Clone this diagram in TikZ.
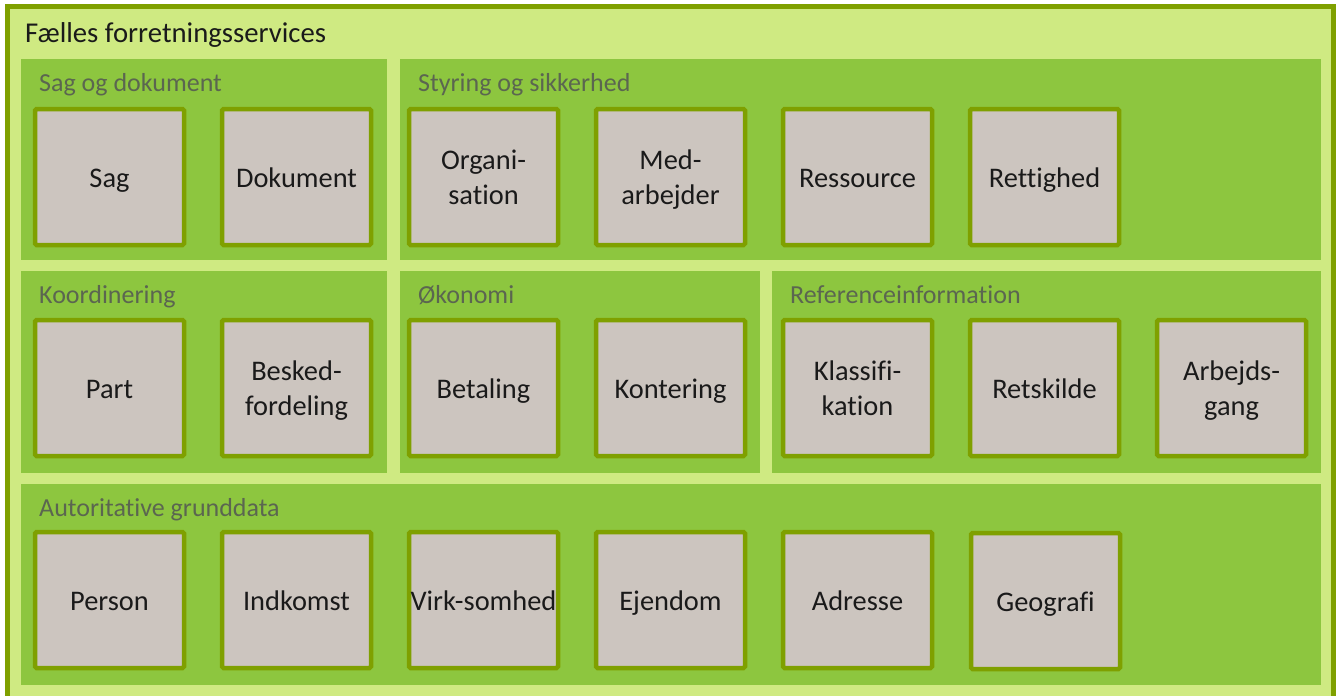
\documentclass[tikz,border=0pt]{standalone}
\usepackage{fontspec}
\setmainfont{Carlito}[Ligatures=CommonOff]
\definecolor{framelight}{HTML}{CFEA82}
\definecolor{frameedge}{HTML}{7FA000}
\definecolor{groupfill}{HTML}{8DC63F}
\definecolor{servicefill}{HTML}{CCC5BF}
\definecolor{grouptext}{HTML}{5B6650}
\definecolor{maintext}{HTML}{1A1A1A}
% strut giving every label line the same height and depth
\newcommand{\lblstrut}{\rule[-7pt]{0pt}{34pt}}
\tikzset{
  service/.style={draw=frameedge, fill=servicefill, line width=4.5pt,
    rounded corners=1.5pt, minimum width=149pt, minimum height=136pt,
    inner sep=0pt, align=center, text=maintext,
    font=\fontsize{28.4}{34.4}\selectfont},
  grouparea/.style={fill=groupfill},
  grouplabel/.style={anchor=base west, inner sep=0pt, text=grouptext,
    font=\fontsize{26}{30}\selectfont},
}
\begin{document}
\begin{tikzpicture}[x=1pt,y=-1pt]
  \useasboundingbox (0,0) rectangle (1336,696);
  \clip (0,0) rectangle (1336,696);
  \fill[white] (0,0) rectangle (1336,696);
  % outer frame
  \draw[draw=frameedge, fill=framelight, line width=5pt] (7,6.5) rectangle (1333,720);
  \node[anchor=base west, inner sep=0pt, text=maintext, font=\fontsize{28.7}{32}\selectfont]
    (maintitle) at (25,42.7) {Fælles forretningsservices};

  % group areas
  \fill[grouparea] (21,59) rectangle (387,260);
  \fill[grouparea] (400,59) rectangle (1321,260);
  \fill[grouparea] (21,271) rectangle (387,473);
  \fill[grouparea] (400,271) rectangle (760,473);
  \fill[grouparea] (772,271) rectangle (1321,473);
  \fill[grouparea] (21,484) rectangle (1321,685);

  % group labels
  \node[grouplabel] (gsag)  at (39,91.7)   {Sag og dokument};
  \node[grouplabel] (gstyr) at (418,91.7)  {Styring og sikkerhed};
  \node[grouplabel] (gkoor) at (39,303.7)  {Koordinering};
  \node[grouplabel] (gokon) at (418,303.7) {Økonomi};
  \node[grouplabel] (gref)  at (790,303.7) {Referenceinformation};
  \node[grouplabel] (gaut)  at (39,516.7)  {Autoritative grunddata};

  % row 1
  \node[service] (sag)   at (109.5,177)  {\lblstrut Sag};
  \node[service] (dok)   at (296.5,177)  {\lblstrut Dokument};
  \node[service] (org)   at (483.5,177)  {\lblstrut Organi-\\\lblstrut sation};
  \node[service] (med)   at (670.5,177)  {\lblstrut Med-\\\lblstrut arbejder};
  \node[service] (res)   at (857.5,177)  {\lblstrut Ressource};
  \node[service] (ret)   at (1044.5,177) {\lblstrut Rettighed};

  % row 2
  \node[service] (part)  at (109.5,388)  {\lblstrut Part};
  \node[service] (besk)  at (296.5,388)  {\lblstrut Besked-\\\lblstrut fordeling};
  \node[service] (betal) at (483.5,388)  {\lblstrut Betaling};
  \node[service] (kont)  at (670.5,388)  {\lblstrut Kontering};
  \node[service] (klas)  at (857.5,388)  {\lblstrut Klassifi-\\\lblstrut kation};
  \node[service] (rets)  at (1044.5,388) {\lblstrut Retskilde};
  \node[service] (arb)   at (1231.5,388) {\lblstrut Arbejds-\\\lblstrut gang};

  % row 3
  \node[service] (pers)  at (109.5,600)  {\lblstrut Person};
  \node[service] (indk)  at (296.5,600)  {\lblstrut Indkomst};
  \node[service] (virk)  at (483.5,600)  {\lblstrut Virk-somhed};
  \node[service] (ejen)  at (670.5,600)  {\lblstrut Ejendom};
  \node[service] (adr)   at (857.5,600)  {\lblstrut Adresse};
  \node[service] (geo)   at (1045.5,601) {\lblstrut Geografi};
\end{tikzpicture}
\end{document}
